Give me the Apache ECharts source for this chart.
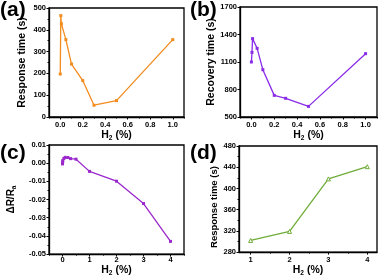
<!DOCTYPE html>
<html><head><meta charset="utf-8">
<script src="https://cdn.jsdelivr.net/npm/echarts@6/dist/echarts.min.js"></script>
<style>html,body{margin:0;padding:0;background:#fff}#c{width:380px;height:278px}</style>
</head><body><div id="c"></div>
<script>
// Panel (a): response time vs H2 (%)
var xA = [0, 0.005, 0.01, 0.05, 0.1, 0.2, 0.3, 0.5, 1.0];
var yA = [197, 465, 428, 355, 243, 167, 54, 75, 355];
// Panel (b): recovery time vs H2 (%)
var xB = [0, 0.005, 0.01, 0.05, 0.1, 0.2, 0.3, 0.5, 1.0];
var yB = [1100, 1205, 1355, 1249, 1016, 736, 704, 616, 1191];
// Panel (c): dR/Ra vs H2 (%)
var xC = [0, 0.005, 0.01, 0.05, 0.1, 0.2, 0.3, 0.5, 1, 2, 3, 4];
var yC = [-0.0004, 0.0006, 0.0014, 0.0026, 0.0032, 0.0031, 0.0025, 0.0022, -0.0045, -0.0099, -0.0222, -0.0430];
// Panel (d): response time vs H2 (%)
var xD = [1, 2, 3, 4];
var yD = [302, 319, 418, 441];

// tick labels
var ticksXab = [0, 0.2, 0.4, 0.6, 0.8, 1.0];
var minorXab = [-0.1, 0.1, 0.3, 0.5, 0.7, 0.9, 1.1];
var ticksYb = [500, 800, 1100, 1400, 1700];
var ticksXc = [0, 1, 2, 3, 4];
var minorXc = [-0.5, 0.5, 1.5, 2.5, 3.5, 4.5];
var ticksXd = [1, 2, 3, 4];
var minorXd = [1.5, 2.5, 3.5];

var chart = echarts.init(document.getElementById('c'), null, {renderer: 'canvas'});
var FF = 'Liberation Sans, Arial, sans-serif';
var lbl = {fontFamily: FF, fontWeight: 'bold', fontSize: 7.5, color: '#000'};
function rich(fs) {
  return {
    b: {fontFamily: FF, fontWeight: 'bold', fontSize: fs, color: '#000', lineHeight: 13},
    s: {fontFamily: FF, fontWeight: 'bold', fontSize: 6.5, color: '#000', lineHeight: 13, verticalAlign: 'bottom', padding: [4, 0, 0, 0]}
  };
}
var lineSt = {show: true, onZero: false, lineStyle: {color: '#000', width: 1.3}};
var tickSt = {show: true, inside: false, length: 2.5, lineStyle: {color: '#000', width: 1}};

var grids = [
  {left: 49, top: 8, width: 135, height: 109},
  {left: 240, top: 7, width: 137, height: 110},
  {left: 49, top: 145, width: 135, height: 111},
  {left: 239, top: 146, width: 138, height: 110}
];
grids.forEach(function (g) { g.show = true; g.borderColor = '#000'; g.borderWidth = 1.3; g.backgroundColor = 'transparent'; });

function xMain(gi, min, max, ticks, fmt, margin, gap) {
  return {
    type: 'value', gridIndex: gi, min: min, max: max, position: 'bottom',
    axisLine: lineSt,
    axisTick: Object.assign({customValues: ticks}, tickSt),
    axisLabel: Object.assign({customValues: ticks, margin: margin, formatter: fmt}, lbl),
    splitLine: {show: false},
    name: '{b|H}{s|2}{b| (%)}', nameLocation: 'middle', nameGap: gap,
    nameTextStyle: {rich: rich(10.5)}
  };
}
function xMinor(gi, min, max, vals) {
  return {
    type: 'value', gridIndex: gi, min: min, max: max, position: 'bottom',
    axisLine: {show: false, onZero: false},
    axisTick: {show: true, customValues: vals, length: 1.5, lineStyle: {color: '#000', width: 1}},
    axisLabel: {show: false}, splitLine: {show: false}
  };
}
function yMain(gi, min, max, opt, name, gap, fs, pad) {
  var a = {
    type: 'value', gridIndex: gi, min: min, max: max,
    axisLine: lineSt,
    axisTick: Object.assign({}, tickSt),
    axisLabel: Object.assign({margin: 3, formatter: function (v) { return String(Math.round(v)); }}, lbl),
    minorTick: {show: true, splitNumber: 2, length: 1.5, lineStyle: {color: '#000', width: 1}},
    splitLine: {show: false},
    name: name, nameLocation: 'middle', nameGap: gap, nameRotate: 90,
    nameTextStyle: {rich: rich(fs), padding: pad}
  };
  Object.keys(opt).forEach(function (k) {
    if (typeof opt[k] === 'object' && a[k]) a[k] = Object.assign({}, a[k], opt[k]); else a[k] = opt[k];
  });
  return a;
}
function pairs(xs, ys) { return xs.map(function (x, i) { return [x, ys[i]]; }); }

var fmt1 = function (v) { return v.toFixed(1); };
var fmt0 = function (v) { return String(Math.round(v)); };
var fmt2 = function (v) { var s = v.toFixed(2); return s === '-0.00' ? '0.00' : s; };

var option = {
  animation: false,
  backgroundColor: '#fff',
  grid: grids,
  xAxis: [
    xMain(0, -0.1, 1.1, ticksXab, fmt1, 4, 11), xMinor(0, -0.1, 1.1, minorXab),
    xMain(1, -0.1, 1.1, ticksXab, fmt1, 4, 10), xMinor(1, -0.1, 1.1, minorXab),
    xMain(2, -0.5, 4.5, ticksXc, fmt0, 2, 9), xMinor(2, -0.5, 4.5, minorXc),
    xMain(3, 0.7, 4.25, ticksXd, fmt0, 4, 8), xMinor(3, 0.7, 4.25, minorXd)
  ],
  yAxis: [
    yMain(0, 0, 500, {interval: 100}, '{b|Response time (s)}', 20, 10.5, 0),
    yMain(1, 500, 1700, {axisTick: {customValues: ticksYb}, axisLabel: {customValues: ticksYb}, minorTick: {show: false}}, '{b|Recovery time (s)}', 22, 10.5, 0),
    yMain(2, -0.05, 0.01, {interval: 0.01, axisLabel: {formatter: fmt2}}, '{b|ΔR/R}{s|a}', 31, 10, 0),
    yMain(3, 280, 480, {interval: 40}, '{b|Response time (s)}', 18, 9.5, [0, 16, 0, 0])
  ],
  series: [
    {type: 'line', xAxisIndex: 0, yAxisIndex: 0, data: pairs(xA, yA), symbol: 'rect', symbolSize: 3,
     itemStyle: {color: '#f28c1e'}, lineStyle: {color: '#f28c1e', width: 1.3}},
    {type: 'line', xAxisIndex: 2, yAxisIndex: 1, data: pairs(xB, yB), symbol: 'rect', symbolSize: 3,
     itemStyle: {color: '#8a2be8'}, lineStyle: {color: '#8a2be8', width: 1.3}},
    {type: 'line', xAxisIndex: 4, yAxisIndex: 2, data: pairs(xC, yC), symbol: 'rect', symbolSize: 3,
     itemStyle: {color: '#9a28cc'}, lineStyle: {color: '#9a28cc', width: 1.3}},
    {type: 'line', xAxisIndex: 6, yAxisIndex: 3, data: pairs(xD, yD), symbol: 'triangle', symbolSize: 4,
     itemStyle: {color: '#fff', borderColor: '#6fac38', borderWidth: 1}, lineStyle: {color: '#6fac38', width: 1.3}}
  ],
  graphic: [
    {type: 'text', left: 0, top: 0, style: {text: '(a)', font: 'bold 21px ' + FF, fill: '#000'}},
    {type: 'text', left: 190, top: 0, style: {text: '(b)', font: 'bold 21px ' + FF, fill: '#000'}},
    {type: 'text', left: 0, top: 143, style: {text: '(c)', font: 'bold 21px ' + FF, fill: '#000'}},
    {type: 'text', left: 190, top: 143, style: {text: '(d)', font: 'bold 21px ' + FF, fill: '#000'}}
  ]
};
chart.setOption(option);
</script></body></html>
